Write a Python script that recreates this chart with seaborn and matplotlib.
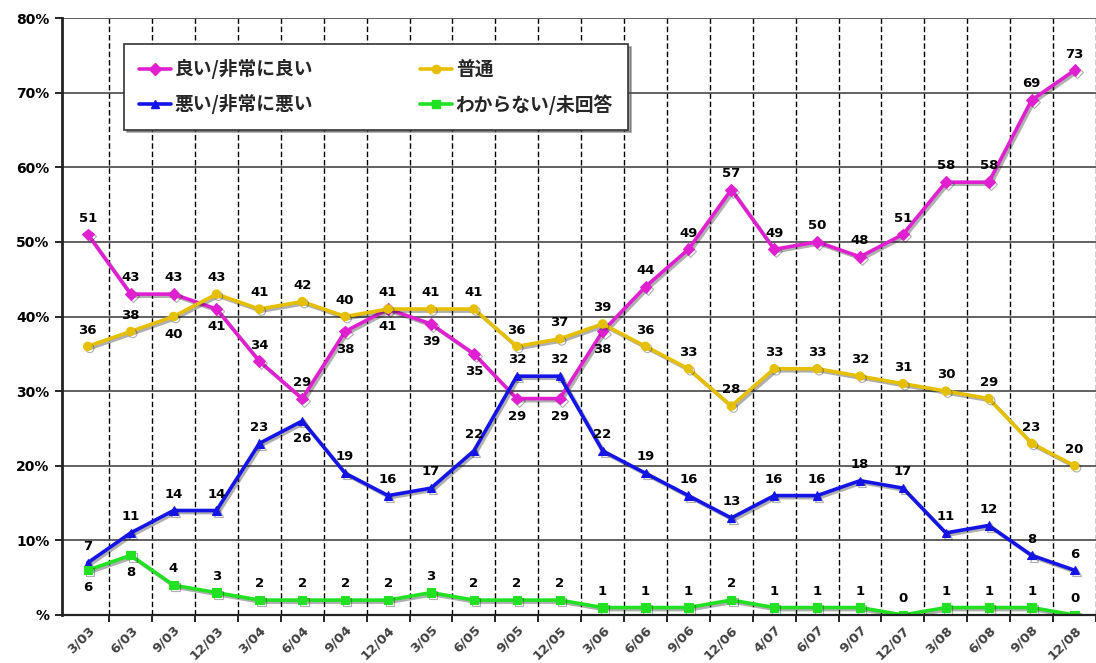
import numpy as np
import pandas as pd
import seaborn as sns
import matplotlib
matplotlib.use("Agg")
import matplotlib.pyplot as plt
import matplotlib.patheffects as pe
from matplotlib.lines import Line2D

# Survey periods (month/year)
periods = ["3/03", "6/03", "9/03", "12/03", "3/04", "6/04", "9/04", "12/04",
           "3/05", "6/05", "9/05", "12/05", "3/06", "6/06", "9/06", "12/06",
           "4/07", "6/07", "9/07", "12/07", "3/08", "6/08", "9/08", "12/08"]

# Percentages for each answer
good = [51, 43, 43, 41, 34, 29, 38, 41, 39, 35, 29, 29, 38, 44, 49, 57,
        49, 50, 48, 51, 58, 58, 69, 73]
normal = [36, 38, 40, 43, 41, 42, 40, 41, 41, 41, 36, 37, 39, 36, 33, 28,
          33, 33, 32, 31, 30, 29, 23, 20]
bad = [7, 11, 14, 14, 23, 26, 19, 16, 17, 22, 32, 32, 22, 19, 16, 13,
       16, 16, 18, 17, 11, 12, 8, 6]
unknown = [6, 8, 4, 3, 2, 2, 2, 2, 3, 2, 2, 2, 1, 1, 1, 2,
           1, 1, 1, 0, 1, 1, 1, 0]

series_names = ["良い/非常に良い", "悪い/非常に悪い", "普通", "わからない/未回答"]
series_values = [good, bad, normal, unknown]
palette = {"良い/非常に良い": "#E020D0", "悪い/非常に悪い": "#1414E6",
           "普通": "#E6C000", "わからない/未回答": "#22E022"}
markers = {"良い/非常に良い": "D", "悪い/非常に悪い": "^",
           "普通": "o", "わからない/未回答": "s"}
# indices whose value label sits below the point
below = {"良い/非常に良い": {3, 6, 7, 8, 9, 10, 11, 12},
         "悪い/非常に悪い": {5},
         "普通": {2},
         "わからない/未回答": {0, 1}}

df = pd.concat([
    pd.DataFrame({"idx": np.arange(len(periods)), "value": vals, "series": name})
    for name, vals in zip(series_names, series_values)
], ignore_index=True)

sns.set_theme(style="white")
plt.rcParams["font.family"] = ["DejaVu Sans", "Noto Sans CJK JP"]

fig = plt.figure(figsize=(10.96, 6.63), dpi=100)
ax = fig.add_axes([62 / 1096, 1 - 615 / 663, 1034 / 1096, 597 / 663])

sns.lineplot(data=df, x="idx", y="value", hue="series", style="series",
             hue_order=series_names, style_order=series_names,
             palette=palette, markers=markers, dashes=False,
             linewidth=2.6, markersize=6, markeredgewidth=0.8,
             ax=ax, legend=False)

for line in ax.get_lines():
    line.set_path_effects([pe.SimpleLineShadow(offset=(1.5, -1.5), alpha=0.35),
                           pe.Normal()])
    line.set_markeredgecolor(line.get_color())

# value labels
for name, vals in zip(series_names, series_values):
    for i, v in enumerate(vals):
        if i in below[name]:
            ax.annotate(str(v), (i, v), xytext=(0, -8), textcoords="offset points",
                        ha="center", va="top", fontsize=9.5, fontweight="heavy",
                        color="black")
        else:
            ax.annotate(str(v), (i, v), xytext=(0, 7), textcoords="offset points",
                        ha="center", va="bottom", fontsize=9.5, fontweight="heavy",
                        color="black")

ax.set_xlim(-0.6, 23.28)
ax.set_ylim(0, 80)

ax.set_yticks(np.arange(0, 81, 10))
ax.set_yticklabels(["%"] + [f"{t}%" for t in range(10, 81, 10)],
                   fontsize=10, fontweight="heavy", color="black")
ax.set_xticks(np.arange(len(periods)))
ax.set_xticklabels(periods, rotation=45, ha="right", rotation_mode="anchor",
                   fontsize=9.5, fontweight="bold", color="#404040")
ax.set_xticks(np.arange(len(periods)) + 0.5, minor=True)

ax.tick_params(axis="x", which="major", length=0, pad=6)
ax.tick_params(axis="x", which="minor", length=5, width=1.2, color="black",
               direction="out", bottom=True)
ax.tick_params(axis="y", which="major", length=5, width=1.2, color="black",
               direction="out", left=True, pad=4)

ax.grid(False)
ax.yaxis.grid(True, color="#555555", linewidth=1.3, linestyle="-")
ax.xaxis.grid(True, which="minor", color="black", linewidth=1.0,
              linestyle=(0, (4, 2)))
ax.set_axisbelow(True)

ax.set_xlabel("")
ax.set_ylabel("")
for s in ["top", "right"]:
    ax.spines[s].set_visible(False)
ax.spines["left"].set_color("#222222")
ax.spines["left"].set_linewidth(2)
ax.spines["bottom"].set_color("#222222")
ax.spines["bottom"].set_linewidth(1.6)

# legend
handles = [Line2D([], [], color=palette[n], marker=markers[n], markersize=6,
                  markeredgecolor=palette[n], linewidth=2.6) for n in series_names]
leg = ax.legend(handles, series_names, loc="upper left",
                bbox_to_anchor=(0.051, 0.972), ncol=2, frameon=True,
                fancybox=False, shadow=True, edgecolor="#333333",
                prop={"family": ["Noto Sans CJK JP"], "weight": "bold", "size": 13.5},
                handlelength=1.7, handletextpad=0.2, columnspacing=5.7,
                labelspacing=0.8, borderpad=0.8)
leg.get_frame().set_linewidth(1.2)

fig.savefig("out.png", dpi=100, facecolor="white")
